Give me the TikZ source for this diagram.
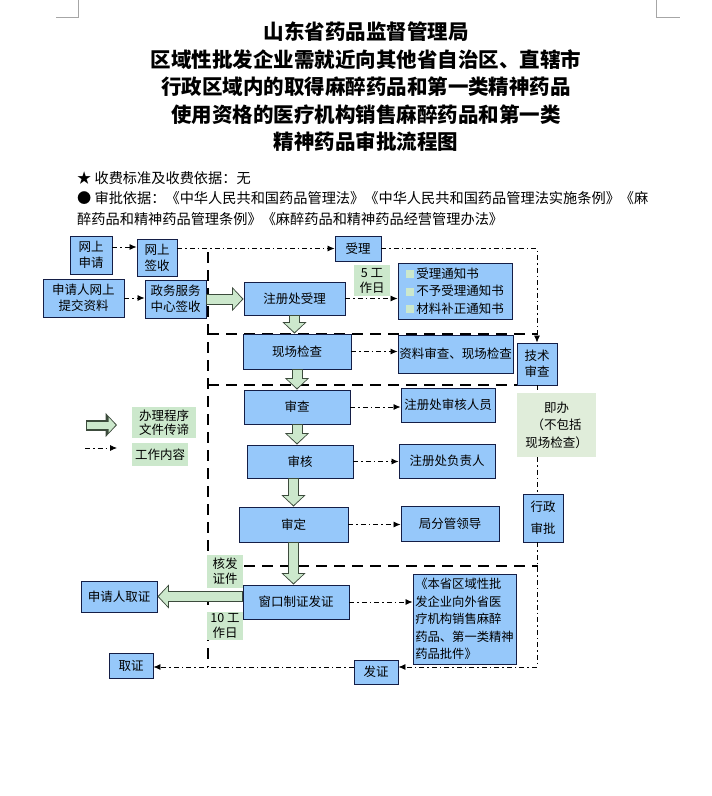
\documentclass[tikz,border=0pt]{standalone}
\usepackage{fontspec}
\usepackage{xcolor}
\usepackage{tikz}
\usetikzlibrary{arrows.meta,positioning}
\setmainfont{Noto Sans CJK SC}
\definecolor{apprblue}{RGB}{150,200,250}
\definecolor{apprline}{RGB}{20,30,70}
\definecolor{apprgreen}{RGB}{204,232,204}
\definecolor{apprpale}{RGB}{224,237,218}
\definecolor{arrowedge}{RGB}{60,75,60}
\newcommand{\sqmark}{\textcolor{apprgreen}{\rule{8pt}{8pt}}\,}

\begin{document}
\begin{tikzpicture}[x=1pt, y=-1pt,
        box/.style={rectangle, draw=apprline, line width=0.9pt, fill=apprblue, inner sep=0pt, align=center, font=\fontsize{12.5}{16}\selectfont},
        note/.style={rectangle, fill=apprgreen, inner sep=0pt, align=center, font=\fontsize{12.5}{15}\selectfont},
        work/.style={line width=0.8pt, dash pattern=on 5pt off 3pt on 1.5pt off 3pt, -{Latex[length=7pt,width=6pt]}},
        worklink/.style={line width=0.8pt, dash pattern=on 5pt off 3pt on 1.5pt off 3pt},
        frame/.style={line width=2.8pt, dash pattern=on 11pt off 7pt},
        flow/.style={line width=9pt, draw=apprgreen, -{Triangle[length=9pt,width=19pt]}, shorten >=1.4pt, shorten <=0.9pt,
            preaction={draw=arrowedge, line width=11pt, -{Triangle[length=11.5pt,width=23.5pt]}, shorten >=0pt, shorten <=0pt}},
        cropmark/.style={line width=0.6pt, draw=black!35}
    ]
        \useasboundingbox (0,0) rectangle (712,796);
        \draw[cropmark] (56,17) -- (78,17) -- (78,0);
        \draw[cropmark] (656,0) -- (656,17) -- (680,17);

        \node[align=center, font=\fontsize{20.5}{27.5}\selectfont\bfseries] (ttl) at (366,87)
            {山东省药品监督管理局\\区域性批发企业需就近向其他省自治区、直辖市\\行政区域内的取得麻醉药品和第一类精神药品\\使用资格的医疗机构销售麻醉药品和第一类\\精神药品审批流程图};
        \node[anchor=west, inner sep=0pt, font=\fontsize{14.2}{21}\selectfont] (fee) at (77,178) {★\ 收费标准及收费依据：无};
        \node[anchor=north west, inner sep=0pt, align=left, font=\fontsize{14.2}{21}\selectfont] (basis) at (77,191)
            {●\ 审批依据：《中华人民共和国药品管理法》《中华人民共和国药品管理法实施条例》《麻\\醉药品和精神药品管理条例》《麻醉药品和精神药品经营管理办法》};

        \draw[frame] (208,252) -- (208,667);
        \draw[frame] (208,334) -- (537,334);
        \draw[frame] (208,385) -- (537,385);
        \draw[frame] (208,566) -- (538,566);

        \node[box, minimum width=42pt, minimum height=38pt] (wsq) at (91,255) {网上\\申请};
        \node[box, minimum width=40pt, minimum height=37pt] (wsqs) at (157,257.5) {网上\\签收};
        \node[box, minimum width=81pt, minimum height=38pt] (tjzl) at (83.5,298) {申请人网上\\提交资料};
        \node[box, minimum width=61pt, minimum height=38pt] (zwzx) at (175.5,299) {政务服务\\中心签收};
        \node[box, minimum width=101pt, minimum height=33pt] (zccsl) at (294.5,298.5) {注册处受理};
        \node[box, minimum width=46pt, minimum height=25pt] (sl) at (358,248.5) {受理};
        \node[note, minimum width=36pt, minimum height=31pt] (wd5) at (372,280.5) {5 工\\作日};
        \node[box, minimum width=114pt, minimum height=56pt, align=left, font=\fontsize{12.5}{17.5}\selectfont] (tzs) at (455,291)
            {\sqmark 受理通知书\\\sqmark 不予受理通知书\\\sqmark 材料补正通知书};
        \node[box, minimum width=108pt, minimum height=35pt] (xcjc) at (297,351.5) {现场检查};
        \node[box, minimum width=115pt, minimum height=38pt] (zlsc) at (455.5,354) {资料审查、现场检查};
        \node[box, minimum width=40pt, minimum height=42pt] (jssc) at (537,364) {技术\\审查};
        \node[box, minimum width=106pt, minimum height=34pt] (sc) at (297,407) {审查};
        \node[box, minimum width=94pt, minimum height=34pt] (shry) at (448,405) {注册处审核人员};
        \node[box, minimum width=106pt, minimum height=33pt] (sh) at (300,461.5) {审核};
        \node[box, minimum width=96pt, minimum height=34pt] (fzr) at (447,461) {注册处负责人};
        \node[box, minimum width=109pt, minimum height=35pt] (sd) at (293.5,524.5) {审定};
        \node[box, minimum width=98pt, minimum height=35pt] (fgld) at (450,523.5) {局分管领导};
        \node[note, fill=apprpale, minimum width=79pt, minimum height=64pt, font=\fontsize{12.5}{17.5}\selectfont] (jb) at (556.5,425) {即办\\（不包括\\现场检查）};
        \node[box, minimum width=40pt, minimum height=48pt, font=\fontsize{12.5}{22}\selectfont] (xzsp) at (543,518) {行政\\审批};
        \node[box, minimum width=106pt, minimum height=34pt] (ckfz) at (296,602) {窗口制证发证};
        \node[box, minimum width=76pt, minimum height=31pt] (sqqz) at (119,596.5) {申请人取证};
        \node[note, minimum width=36pt, minimum height=33pt] (hfzj) at (225,571.5) {核发\\证件};
        \node[note, minimum width=36pt, minimum height=28pt] (wd10) at (225,626) {10 工\\作日};
        \node[box, minimum width=103pt, minimum height=90pt, align=left, font=\fontsize{12.3}{17.5}\selectfont] (pj) at (464.5,619)
            {《本省区域性批\\发企业向外省医\\疗机构销售麻醉\\药品、第一类精神\\药品批件》};
        \node[box, minimum width=44pt, minimum height=24pt] (fz) at (376,672) {发证};
        \node[box, minimum width=44pt, minimum height=25pt] (qz) at (131,665.5) {取证};

        \coordinate (lgflowa) at (86,425);
        \coordinate (lgflowb) at (117,425);
        \coordinate (lgworka) at (85,448);
        \coordinate (lgworkb) at (117,448);
        \node[note, minimum width=64pt, minimum height=31pt, align=left, font=\fontsize{12.5}{14}\selectfont] (lgproc) at (164,422.5) {办理程序\\文件传谛};
        \node[note, minimum width=56pt, minimum height=23pt] (lgwork) at (160,454.5) {工作内容};
        \draw[flow, line width=7pt, preaction={draw=arrowedge, line width=9pt, -{Triangle[length=9pt,width=18pt]}}, -{Triangle[length=7pt,width=15pt]}] (lgflowa) -- (lgflowb);
        \draw[work] (lgworka) -- (lgworkb);

        \draw[flow] (zwzx.east) -- (zwzx.east -| zccsl.west);
        \draw[flow] (zccsl.south) -- (zccsl.south |- xcjc.north);
        \draw[flow] (xcjc.south) -- (xcjc.south |- sc.north);
        \draw[flow] (sc.south) -- (sc.south |- sh.north);
        \draw[flow] (sd.north |- sh.south) -- (sd.north);
        \draw[flow] (sd.south) -- (sd.south |- ckfz.north);
        \draw[flow] (ckfz.west |- sqqz.east) -- (sqqz.east);

        \draw[work] ([yshift=8pt]wsq.east) -- ([yshift=8pt]wsq.east -| wsqs.west);
        \draw[work] (tjzl.east) -- (tjzl.east -| zwzx.west);
        \draw[work] (wsqs.east |- sl.west) -- (sl.west);
        \draw[work] (sl.east) -| (jssc.north);
        \draw[work] (zccsl.east) -- (zccsl.east -| tzs.west);
        \draw[work] (xcjc.east) -- (xcjc.east -| zlsc.west);
        \draw[work] (sc.east) -- (sc.east -| shry.west);
        \draw[work] (sh.east) -- (sh.east -| fzr.west);
        \draw[work] (sd.east) -- (sd.east -| fgld.west);
        \draw[work] (ckfz.east) -- (ckfz.east -| pj.west);

        \coordinate (turn) at (537,667);
        \draw[worklink] (jssc.south) -- (jssc.south |- jb.north);
        \draw[worklink] (jssc.south |- jb.south) -- (jssc.south |- xzsp.north);
        \draw[work] (jssc.south |- xzsp.south) -- (turn) -- (turn -| fz.east);
        \draw[work] (fz.west |- turn) -- (qz.east |- turn);
    \end{tikzpicture}
\end{document}
